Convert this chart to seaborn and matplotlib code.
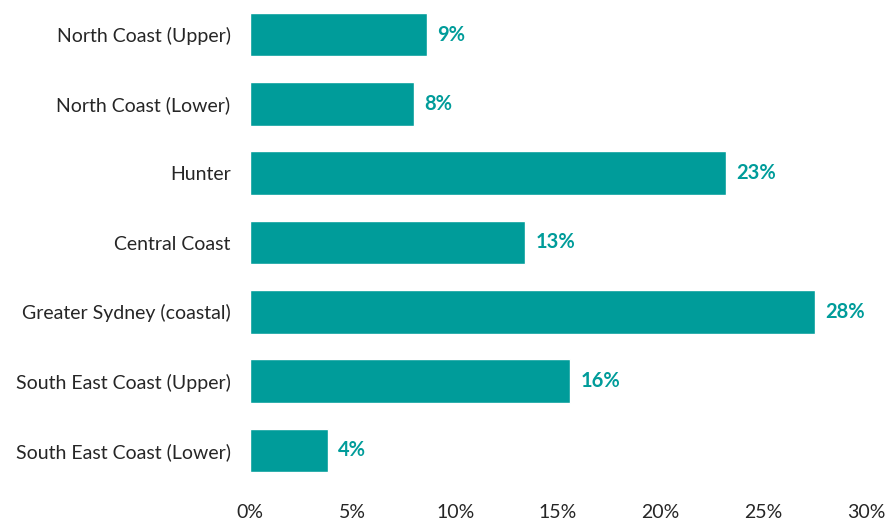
import matplotlib
matplotlib.use("Agg")
import matplotlib.pyplot as plt
import seaborn as sns
import pandas as pd
from matplotlib.ticker import PercentFormatter

regions = [
    "North Coast (Upper)",
    "North Coast (Lower)",
    "Hunter",
    "Central Coast",
    "Greater Sydney (coastal)",
    "South East Coast (Upper)",
    "South East Coast (Lower)",
]
shares = [8.6, 8.0, 23.2, 13.4, 27.5, 15.6, 3.8]
x_ticks = [0, 5, 10, 15, 20, 25, 30]

teal = "#009C9A"

sns.set_theme(style="white")
plt.rcParams["font.family"] = ["Lato", "DejaVu Sans"]

df = pd.DataFrame({"region": regions, "share": shares})

fig = plt.figure(figsize=(8.87, 5.22), dpi=100)
ax = fig.add_axes([250 / 887, 1 - 485 / 522, (866 - 250) / 887, 485 / 522])

sns.barplot(data=df, x="share", y="region", color=teal, saturation=1,
            width=0.63, ax=ax)

for patch, val in zip(ax.patches, shares):
    y = patch.get_y() + patch.get_height() / 2
    ax.text(patch.get_width() + 0.5, y, f"{val:.0f}%", va="center", ha="left",
            color=teal, fontsize=14.5, fontweight="bold")

ax.set_xlim(0, 30)
ax.set_ylim(6.5, -0.5)
ax.set_xticks(x_ticks)
ax.xaxis.set_major_formatter(PercentFormatter(decimals=0))
ax.set_xlabel("")
ax.set_ylabel("")
ax.tick_params(axis="both", length=0, labelsize=14, colors="#262626")
ax.tick_params(axis="y", pad=14)
ax.tick_params(axis="x", pad=14)
for s in ax.spines.values():
    s.set_visible(False)

fig.savefig("out.png", dpi=100)
